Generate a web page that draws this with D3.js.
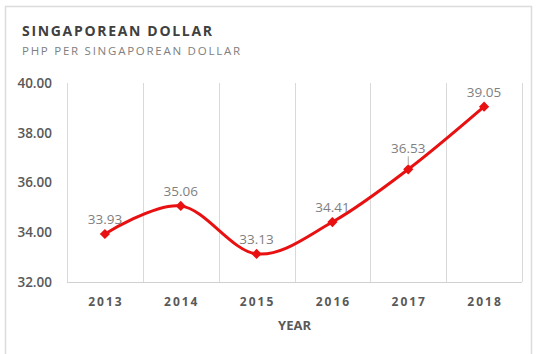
<!DOCTYPE html>
<html>
<head>
<meta charset="utf-8">
<script src="https://cdn.jsdelivr.net/npm/d3@7"></script>
<style>
  html, body { margin: 0; padding: 0; background: #fff; }
  svg { display: block; }
</style>
</head>
<body>
<svg id="chart" width="539" height="354"></svg>
<script>
// Exchange rate, PHP per Singaporean dollar
const years = ["2013", "2014", "2015", "2016", "2017", "2018"];
const rates = [33.93, 35.06, 33.13, 34.41, 36.53, 39.05];
const yTicks = [32, 34, 36, 38, 40];

const svg = d3.select("#chart");
const W = 539, H = 354;
const m = { left: 67, right: 17, top: 83, bottom: 72 };
const FONT = "'Open Sans', sans-serif";

// card frame
svg.append("rect")
  .attr("x", 5.5).attr("y", 6.5)
  .attr("width", 526).attr("height", 360)
  .attr("fill", "#fff")
  .attr("stroke", "#dcdcdc").attr("stroke-width", 1.5);

// titles
svg.append("text")
  .attr("x", 22).attr("y", 35.5)
  .attr("font-family", FONT)
  .attr("font-weight", 700).attr("font-size", 14)
  .attr("textLength", 190).attr("lengthAdjust", "spacing")
  .attr("fill", "#404040")
  .text("SINGAPOREAN DOLLAR");
svg.append("text")
  .attr("x", 22).attr("y", 54.5)
  .attr("font-family", FONT)
  .attr("font-size", 11.5)
  .attr("textLength", 218).attr("lengthAdjust", "spacing")
  .attr("fill", "#808080")
  .text("PHP PER SINGAPOREAN DOLLAR");

const x = d3.scaleBand().domain(years).range([m.left, W - m.right]).padding(0);
const y = d3.scaleLinear().domain([32, 40]).range([H - m.bottom, m.top]);

// vertical category gridlines
const bounds = years.map(d => x(d)).concat([x.range()[1]]);
svg.append("g").selectAll("line").data(bounds).join("line")
  .attr("x1", d => Math.round(d) + 0.5).attr("x2", d => Math.round(d) + 0.5)
  .attr("y1", y(40)).attr("y2", y(32))
  .attr("stroke", "#d9d9d9").attr("stroke-width", 1);

// bottom axis line
svg.append("line")
  .attr("x1", m.left).attr("x2", W - m.right)
  .attr("y1", Math.round(y(32)) + 0.5).attr("y2", Math.round(y(32)) + 0.5)
  .attr("stroke", "#d0d0d0").attr("stroke-width", 1.2);

// y axis labels
const yAxis = d3.axisLeft(y).tickValues(yTicks).tickFormat(d3.format(".2f")).tickSize(0).tickPadding(15);
const gy = svg.append("g").attr("transform", `translate(${m.left},0)`).call(yAxis);
gy.select(".domain").remove();
gy.selectAll("text")
  .attr("font-family", FONT)
  .attr("font-weight", 600).attr("font-size", 13.5)
  .attr("fill", "#595959");

// x axis labels
const xAxis = d3.axisBottom(x).tickSize(0).tickPadding(15);
const gx = svg.append("g").attr("transform", `translate(0,${y(32)})`).call(xAxis);
gx.select(".domain").remove();
gx.selectAll("text")
  .attr("font-family", FONT)
  .attr("font-weight", 700).attr("font-size", 12)
  .attr("letter-spacing", 2)
  .attr("dx", 1)
  .attr("fill", "#595959");

svg.append("text")
  .attr("x", (m.left + W - m.right) / 2).attr("y", 330)
  .attr("text-anchor", "middle")
  .attr("font-family", FONT)
  .attr("font-weight", 700).attr("font-size", 13)
  .attr("fill", "#595959")
  .text("YEAR");

// smoothed line
const cx = (d, i) => x(years[i]) + x.bandwidth() / 2;
const line = d3.line().x(cx).y(d => y(d)).curve(d3.curveCatmullRom.alpha(0));
svg.append("path").datum(rates)
  .attr("d", line)
  .attr("fill", "none")
  .attr("stroke", "#e81010").attr("stroke-width", 3)
  .attr("stroke-linejoin", "round");

// diamond markers
svg.append("g").selectAll("path").data(rates).join("path")
  .attr("transform", (d, i) => `translate(${cx(d, i)},${y(d)}) rotate(45)`)
  .attr("d", "M-3.6,-3.6h7.2v7.2h-7.2z")
  .attr("fill", "#e81010");

// value labels (the 2017 label sits a little higher with a leader)
const lift = i => (i === 4 ? 16 : 10);
svg.append("g").selectAll("text").data(rates).join("text")
  .attr("x", (d, i) => cx(d, i))
  .attr("y", (d, i) => y(d) - lift(i))
  .attr("text-anchor", "middle")
  .attr("font-family", FONT)
  .attr("font-size", 13.5)
  .attr("fill", "#7f7f7f")
  .text(d => d.toFixed(2));
svg.append("line")
  .attr("x1", cx(rates[4], 4)).attr("x2", cx(rates[4], 4))
  .attr("y1", y(rates[4]) - 13).attr("y2", y(rates[4]) - 5)
  .attr("stroke", "#a6a6a6").attr("stroke-width", 1);
</script>
</body>
</html>
